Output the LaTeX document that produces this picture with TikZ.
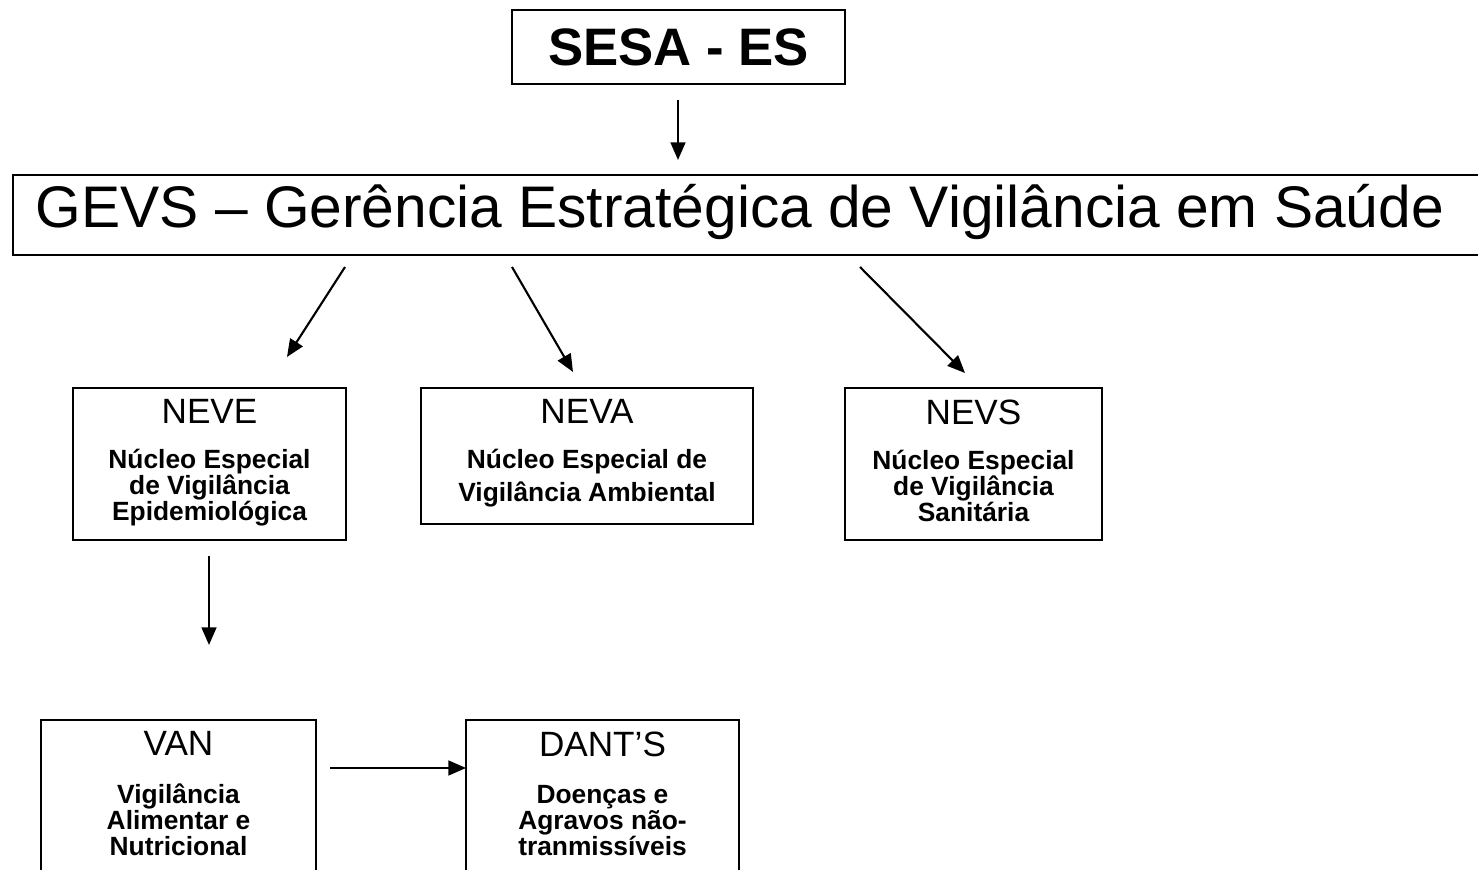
\documentclass[tikz,border=0pt]{standalone}
\usepackage{fontspec}
\setmainfont{Liberation Sans}
\usetikzlibrary{positioning,arrows.meta}

\begin{document}
\begin{tikzpicture}[
	box/.style={draw,line width=0.6pt,inner sep=0pt},
	arrowline/.style={line width=0.6pt,-{Triangle[length=5pt,width=4.2pt]}},
	title/.style={inner sep=0pt,font=\fontsize{10}{12}\selectfont},
	body/.style={inner sep=0pt,align=center,font=\fontsize{7.5}{7.4}\selectfont\bfseries}]
			%Page frame
			\useasboundingbox (0,0) rectangle (14.78,-8.70);
			\clip (0,0) rectangle (14.78,-8.70);
			%Top box
			\coordinate (centerSesa) at (6.785,-0.47);
			\node [box,minimum width=3.33cm,minimum height=0.74cm,font=\fontsize{15}{18}\selectfont\bfseries] (sesa) at (centerSesa) {SESA - ES};
			%Wide box, runs out of the page on the right
			\coordinate (leftGevs) at (0.12,-2.15);
			\node [box,anchor=west,minimum width=14.96cm,minimum height=0.8cm] (gevs) at (leftGevs) {};
			\node [anchor=west,inner sep=0pt,font=\fontsize{16.7}{20}\selectfont] (gevsText) at ([xshift=0.23cm,yshift=0.03cm]gevs.west) {GEVS -- Gerência Estratégica de Vigilância em Saúde};
			%Second row of boxes
			\coordinate (centerNeve) at (2.095,-4.64);
			\coordinate (centerNeva) at (5.87,-4.56);
			\coordinate (centerNevs) at (9.735,-4.64);
			%cell NEVE
			\node [box,minimum width=2.73cm,minimum height=1.52cm] (neve) at (centerNeve) {};
			\node [title,below=0.12cm] (neveTitle) at (neve.north) {NEVE};
			\node [body,below=0.24cm] (neveText) at (neveTitle.south) {Núcleo Especial\\de Vigilância\\Epidemiológica};
			%cell NEVA
			\node [box,minimum width=3.32cm,minimum height=1.36cm] (neva) at (centerNeva) {};
			\node [title,below=0.12cm] (nevaTitle) at (neva.north) {NEVA};
			\node [body,below=0.24cm] (nevaText) at (nevaTitle.south) {Núcleo Especial de\\[2pt]Vigilância Ambiental};
			%cell NEVS
			\node [box,minimum width=2.57cm,minimum height=1.52cm] (nevs) at (centerNevs) {};
			\node [title,below=0.12cm] (nevsTitle) at (nevs.north) {NEVS};
			\node [body,below=0.24cm] (nevsText) at (nevsTitle.south) {Núcleo Especial\\de Vigilância\\Sanitária};
			%Bottom row, cut by the page
			\coordinate (centerVan) at (1.785,-7.96);
			\coordinate (centerDant) at (6.025,-7.96);
			%cell VAN
			\node [box,minimum width=2.75cm,minimum height=1.52cm] (van) at (centerVan) {};
			\node [title,below=0.12cm] (vanTitle) at (van.north) {VAN};
			\node [body,below=0.27cm] (vanText) at (vanTitle.south) {Vigilância\\Alimentar e\\Nutricional};
			%cell DANT'S
			\node [box,minimum width=2.73cm,minimum height=1.52cm] (dant) at (centerDant) {};
			\node [title,below=0.12cm] (dantTitle) at (dant.north) {DANT’S};
			\node [body,below=0.27cm] (dantText) at (dantTitle.south) {Doenças e\\Agravos não-\\tranmissíveis};
			%Arrow ends, they stay clear of the boxes
			\coordinate (sesaOut) at (6.78,-1.00);
			\coordinate (gevsIn) at (6.78,-1.60);
			\coordinate (gevsOut1) at (3.45,-2.67);
			\coordinate (neveIn) at (2.87,-3.57);
			\coordinate (gevsOut2) at (5.12,-2.67);
			\coordinate (nevaIn) at (5.73,-3.72);
			\coordinate (gevsOut3) at (8.60,-2.67);
			\coordinate (nevsIn) at (9.65,-3.73);
			\coordinate (neveOut) at (2.09,-5.56);
			\coordinate (vanIn) at (2.09,-6.45);
			\coordinate (vanOut) at (3.30,-7.68);
			\coordinate (dantIn) at (4.66,-7.68);
			\draw [arrowline] (sesaOut) -- (gevsIn);
			\draw [arrowline] (gevsOut1) -- (neveIn);
			\draw [arrowline] (gevsOut2) -- (nevaIn);
			\draw [arrowline] (gevsOut3) -- (nevsIn);
			\draw [arrowline] (neveOut) -- (vanIn);
			\draw [arrowline] (vanOut) -- (dantIn);
\end{tikzpicture}
\end{document}
